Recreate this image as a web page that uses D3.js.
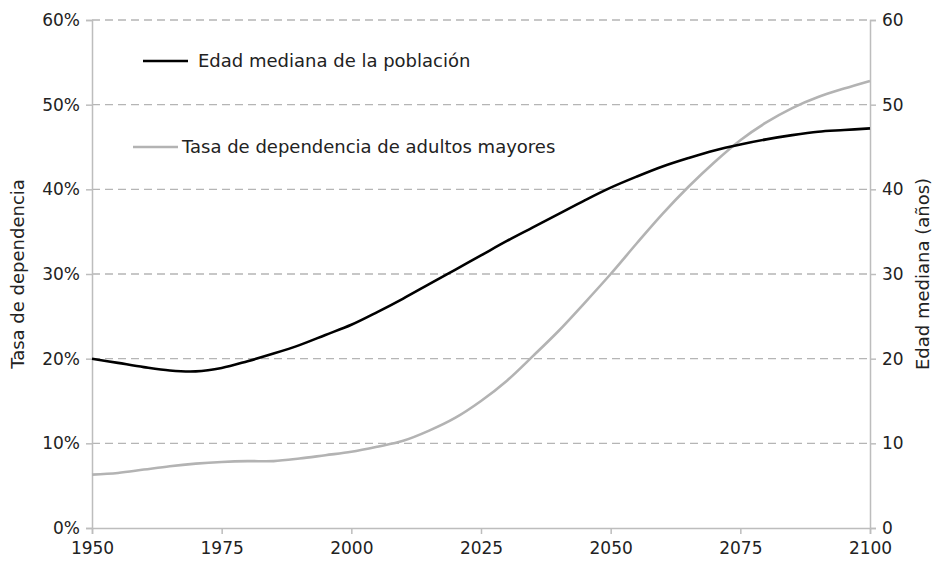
<!DOCTYPE html>
<html><head><meta charset="utf-8">
<script src="https://cdnjs.cloudflare.com/ajax/libs/d3/7.8.5/d3.min.js"></script>
<style>
body{margin:0;background:#fff;}
text{font-family:"DejaVu Sans",Verdana,sans-serif;fill:#222;}
</style></head>
<body><svg id="c" width="937" height="561"></svg>
<script>
const years = d3.range(1950, 2101, 5);
const edadMediana = [20.0,19.5,19.0,18.6,18.5,18.9,19.7,20.6,21.6,22.8,24.0,25.5,27.1,28.8,30.5,32.2,33.9,35.5,37.1,38.7,40.2,41.5,42.7,43.7,44.6,45.3,45.9,46.4,46.8,47.0,47.2];
const tasaDependencia = [6.3,6.5,6.9,7.3,7.6,7.8,7.9,7.9,8.2,8.6,9.0,9.6,10.3,11.5,13.0,15.0,17.4,20.3,23.3,26.6,30.0,33.6,37.1,40.3,43.2,45.8,47.9,49.6,50.9,51.9,52.8];
const xTicks = [1950,1975,2000,2025,2050,2075,2100];
const yTicks = [0,10,20,30,40,50,60];
const seriesNames = ["Edad mediana de la población","Tasa de dependencia de adultos mayores"];
const leftTitle = "Tasa de dependencia";
const rightTitle = "Edad mediana (años)";

const svg = d3.select("#c");
const L = 92, R = 870, T = 20, B = 528;
const x = d3.scaleLinear().domain([1950,2100]).range([L,R]);
const yL = d3.scaleLinear().domain([0,60]).range([B,T]);
const yR = d3.scaleLinear().domain([0,60]).range([B,T]);
const axisCol = "#bdbdbd", fs = 17, fl = 18, ff = "DejaVu Sans, Verdana, sans-serif";

// grid
svg.append("g").selectAll("line").data(yTicks.filter(d=>d>0)).join("line")
  .attr("x1",L).attr("x2",R).attr("y1",d=>yL(d)).attr("y2",d=>yL(d))
  .attr("stroke","#b5b5b5").attr("stroke-width",1.3).attr("stroke-dasharray","8,5");

function styleAxis(g){
  g.select(".domain").attr("stroke",axisCol).attr("stroke-width",1.5);
  g.selectAll(".tick line").attr("stroke",axisCol).attr("stroke-width",1.5);
  g.selectAll(".tick text").attr("font-size",fs).attr("fill","#222").attr("font-family",ff);
}
svg.append("g").attr("transform",`translate(0,${B})`)
  .call(d3.axisBottom(x).tickValues(xTicks).tickFormat(d3.format("d")).tickSizeOuter(0).tickSize(6).tickPadding(8))
  .call(styleAxis);
svg.append("g").attr("transform",`translate(${L},0)`)
  .call(d3.axisLeft(yL).tickValues(yTicks).tickFormat(d=>d+"%").tickSizeOuter(0).tickSize(6).tickPadding(6))
  .call(styleAxis);
svg.append("g").attr("transform",`translate(${R},0)`)
  .call(d3.axisRight(yR).tickValues(yTicks).tickFormat(d3.format("d")).tickSizeOuter(0).tickSize(6).tickPadding(6))
  .call(styleAxis);

// lines
const lineL = d3.line().x((d,i)=>x(years[i])).y(d=>yL(d)).curve(d3.curveCatmullRom);
const lineR = d3.line().x((d,i)=>x(years[i])).y(d=>yR(d)).curve(d3.curveCatmullRom);
svg.append("path").attr("d",lineL(tasaDependencia)).attr("fill","none").attr("stroke","#b3b3b3").attr("stroke-width",2.6);
svg.append("path").attr("d",lineR(edadMediana)).attr("fill","none").attr("stroke","#000").attr("stroke-width",2.6);

// legend
svg.append("line").attr("x1",143).attr("x2",188).attr("y1",61).attr("y2",61).attr("stroke","#000").attr("stroke-width",2.6);
svg.append("text").attr("x",198).attr("y",67).attr("font-size",fl).text(seriesNames[0]);
svg.append("line").attr("x1",133).attr("x2",178).attr("y1",147).attr("y2",147).attr("stroke","#b3b3b3").attr("stroke-width",2.6);
svg.append("text").attr("x",182).attr("y",153).attr("font-size",fl).text(seriesNames[1]);

// axis titles
svg.append("text").attr("transform",`translate(24,${(T+B)/2}) rotate(-90)`).attr("text-anchor","middle").attr("font-size",fl).text(leftTitle);
svg.append("text").attr("transform",`translate(929,${(T+B)/2}) rotate(-90)`).attr("text-anchor","middle").attr("font-size",fl).text(rightTitle);
</script></body></html>
